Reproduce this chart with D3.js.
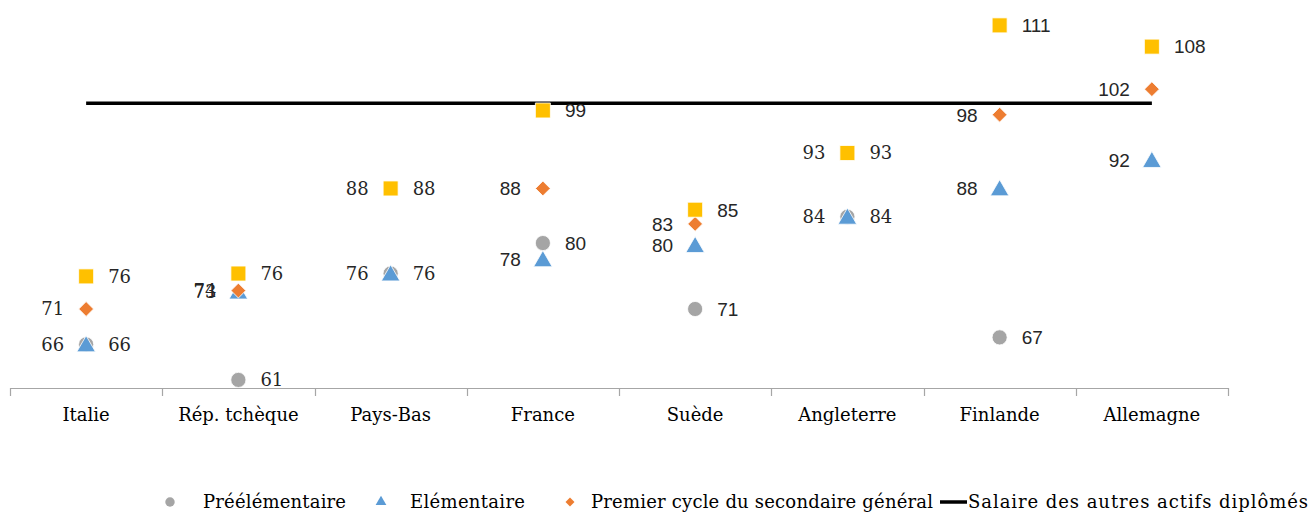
<!DOCTYPE html>
<html>
<head>
<meta charset="utf-8">
<script src="https://cdn.jsdelivr.net/npm/d3@7"></script>
<style>
  body { margin: 0; background: #fff; }
  svg { display: block; }
</style>
</head>
<body>
<div id="chart"></div>
<script>
// categories + series
var countries = ["Italie", "Rép. tchèque", "Pays-Bas", "France", "Suède", "Angleterre", "Finlande", "Allemagne"];
var preelem = [66, 61, 76, 80.3, 71, 84, 67, null];
var elem = [66, 73.45, 76, 78, 80, 84, 88, 92];
var college = [71, 73.6, 88, 88, 83, 93, 98.4, 102];
var lycee = [75.6, 76, 88, 99, 85, 93, 111, 108];
var autres = [100, 100, 100, 100, 100, 100, 100, 100];

var W = 1313, H = 513;
var serif = "'DejaVu Serif', serif";
var sans = "'Liberation Sans', sans-serif";
// labels drawn in the sans face in the original
var sansCats = ["France", "Suède", "Finlande", "Allemagne"];
var fmt = d3.format(".0f");

const svg = d3.select("#chart").append("svg")
  .attr("width", W).attr("height", H);

var x = d3.scaleBand().domain(countries).range([10, 1228]);
var cx = function (c) { return x(c) + x.bandwidth() / 2; };
var y = d3.scaleLinear().domain([60, 115]).range([387, -3]);

// category axis
svg.append("line")
  .attr("x1", x.range()[0]).attr("x2", x.range()[1])
  .attr("y1", 388.5).attr("y2", 388.5)
  .attr("stroke", "#a6a6a6").attr("stroke-width", 1.2);
var bounds = countries.map(function (c) { return x(c); }).concat([x.range()[1]]);
svg.append("g").selectAll("line").data(bounds).enter().append("line")
  .attr("x1", function (d) { return Math.round(d) + 0.5; })
  .attr("x2", function (d) { return Math.round(d) + 0.5; })
  .attr("y1", 388).attr("y2", 396)
  .attr("stroke", "#a6a6a6").attr("stroke-width", 1.2);
svg.append("g").selectAll("text").data(countries).enter().append("text")
  .attr("x", cx).attr("y", 421)
  .attr("text-anchor", "middle")
  .style("font-family", serif).style("font-size", "18px").attr("fill", "#000")
  .text(function (d) { return d; });

// reference line (salaire des autres actifs)
var line = d3.line().x(function (d, i) { return cx(countries[i]); }).y(function (d) { return y(d); });
svg.append("path").datum(autres)
  .attr("d", line).attr("fill", "none")
  .attr("stroke", "#000").attr("stroke-width", 3.5);

var series = [
  { name: "Préélémentaire", values: preelem, color: "#a5a5a5", sym: d3.symbolCircle, size: 180, side: 1, rot: 0 },
  { name: "Elémentaire", values: elem, color: "#5b9bd5", sym: d3.symbolTriangle, size: 150, side: -1, rot: 0 },
  { name: "Premier cycle du secondaire général", values: college, color: "#ed7d31", sym: d3.symbolSquare, size: 110, side: -1, rot: 45 },
  { name: "Second cycle", values: lycee, color: "#ffc000", sym: d3.symbolSquare, size: 225, side: 1, rot: 0 }
];

series.forEach(function (s) {
  var pts = s.values.map(function (v, i) { return { v: v, c: countries[i] }; })
    .filter(function (d) { return d.v != null; });
  var g = svg.append("g");
  g.selectAll("path").data(pts).enter().append("path")
    .attr("d", d3.symbol().type(s.sym).size(s.size))
    .attr("transform", function (d) {
      var dy = s.sym === d3.symbolTriangle ? 2 : 0;
      return "translate(" + cx(d.c) + "," + (y(d.v) + dy) + ") rotate(" + s.rot + ")";
    })
    .attr("fill", s.color)
    .attr("stroke", "#fff").attr("stroke-width", 0.8);
  g.selectAll("text").data(pts).enter().append("text")
    .attr("x", function (d) { return cx(d.c) + s.side * 22; })
    .attr("y", function (d) { return y(d.v); })
    .attr("dy", "0.36em")
    .attr("text-anchor", s.side > 0 ? "start" : "end")
    .style("font-family", function (d) { return sansCats.indexOf(d.c) >= 0 ? sans : serif; })
    .style("font-size", function (d) { return sansCats.indexOf(d.c) >= 0 ? "19px" : "18px"; })
    .attr("fill", "#262626")
    .text(function (d) { return fmt(d.v); });
});

// legend (widths stretched to match the original face)
var leg = svg.append("g").style("font-family", serif).style("font-size", "18px");
var legItems = [
  { s: series[0], sx: 170, tx: 203, size: 70, w: 143 },
  { s: series[1], sx: 381, tx: 410, size: 50, w: 115 },
  { s: series[2], sx: 570, tx: 591, size: 40, w: 342 }
];
legItems.forEach(function (it) {
  leg.append("path")
    .attr("d", d3.symbol().type(it.s.sym).size(it.size))
    .attr("transform", "translate(" + it.sx + ",502) rotate(" + it.s.rot + ")")
    .attr("fill", it.s.color);
  leg.append("text").attr("x", it.tx).attr("y", 508)
    .attr("textLength", it.w).attr("lengthAdjust", "spacing")
    .text(it.s.name);
});
leg.append("line").attr("x1", 940).attr("x2", 967).attr("y1", 502).attr("y2", 502)
  .attr("stroke", "#000").attr("stroke-width", 3.5);
leg.append("text").attr("x", 968).attr("y", 508)
  .attr("textLength", 340).attr("lengthAdjust", "spacing")
  .text("Salaire des autres actifs diplômés");
</script>
</body>
</html>
